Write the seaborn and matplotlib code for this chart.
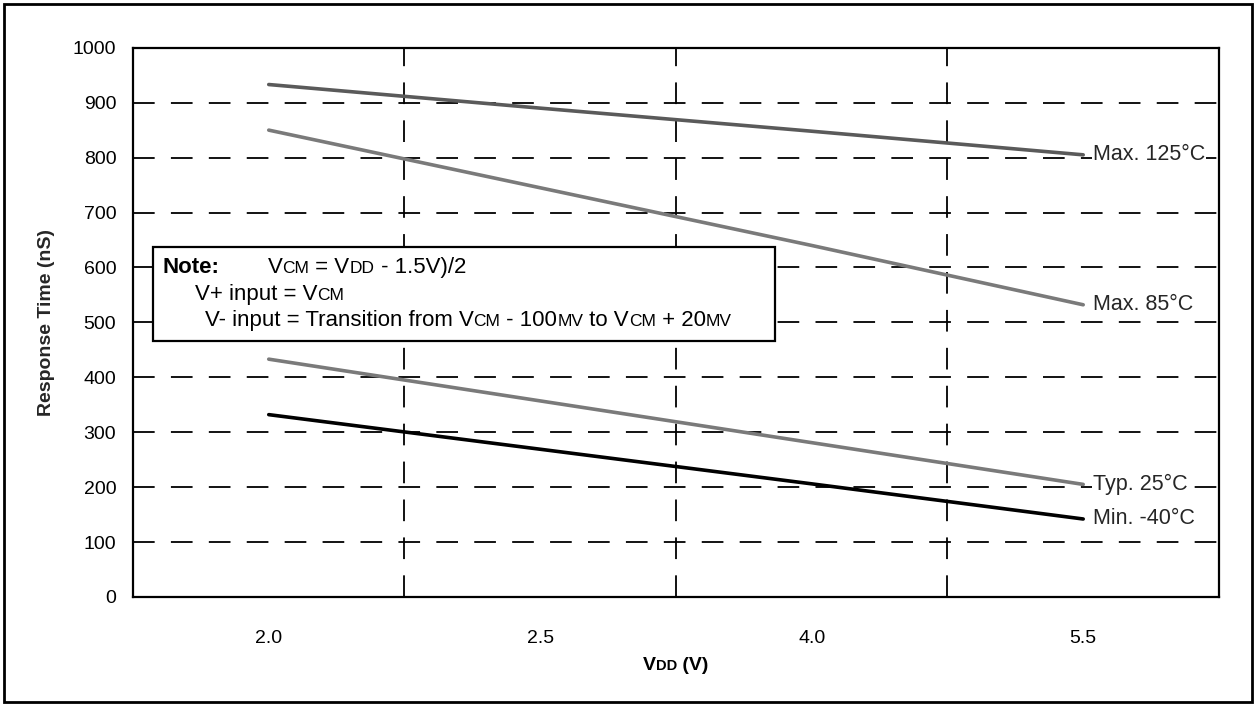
import matplotlib
matplotlib.use("Agg")
import matplotlib.pyplot as plt
import seaborn as sns
import pandas as pd
from matplotlib.offsetbox import TextArea, HPacker, AnnotationBbox
from matplotlib.patches import Rectangle

# Data
vdd_labels = ["2.0", "2.5", "4.0", "5.5"]
curve_names = ["Max. 125°C", "Max. 85°C", "Typ. 25°C", "Min. -40°C"]
max_125 = [933, 890, 848, 805]
max_85 = [850, 745, 640, 532]
typ_25 = [433, 357, 281, 205]
min_40 = [332, 269, 206, 142]
curve_colors = ["#5a5a5a", "#7a7a7a", "#7a7a7a", "#000000"]
y_ticks = list(range(0, 1001, 100))

all_curves = [max_125, max_85, typ_25, min_40]
df = pd.DataFrame({
    "VDD": vdd_labels * len(curve_names),
    "Response": [v for c in all_curves for v in c],
    "Curve": [n for n in curve_names for _ in vdd_labels],
})

sns.set_style("white")
plt.rcParams["font.family"] = ["Liberation Sans", "DejaVu Sans"]

fig = plt.figure(figsize=(12.56, 7.05), dpi=100)
ax = fig.add_axes([0.1059, 0.1532, 0.8646, 0.7791])

sns.lineplot(data=df, x="VDD", y="Response", hue="Curve",
             palette=dict(zip(curve_names, curve_colors)),
             linewidth=2.6, legend=False, sort=False, errorbar=None, ax=ax)

ax.set_xlim(-0.5, len(vdd_labels) - 0.5)
ax.set_ylim(0, 1000)
ax.set_yticks(y_ticks)
ax.set_xticks(range(len(vdd_labels)))
ax.set_xticklabels(vdd_labels)
ax.set_xticks([i + 0.5 for i in range(len(vdd_labels) - 1)], minor=True)

#dashed grid: horizontal at y ticks, vertical between categories
ax.set_axisbelow(True)
ax.grid(False)
ax.grid(which="major", axis="y", color="black", linestyle=(0, (12, 9)), linewidth=1.3)
ax.grid(which="minor", axis="x", color="black", linestyle=(0, (12, 9)), linewidth=1.3)

ax.tick_params(axis="both", which="both", length=0, labelsize=14, colors="black")
ax.tick_params(axis="x", pad=24)
ax.tick_params(axis="y", pad=12)
for s in ax.spines.values():
    s.set_visible(True)
    s.set_color("black")
    s.set_linewidth(1.6)

ax.set_xlabel("")
ax.set_ylabel("Response Time (nS)", fontsize=14, fontweight="bold")
ax.yaxis.set_label_coords(-0.072, 0.5)

# curve labels at line ends
for name, vals in zip(curve_names, all_curves):
    ax.annotate(name, xy=(len(vdd_labels) - 1, vals[-1]), xytext=(7, 0),
                textcoords="offset points", va="center", ha="left", fontsize=15.5,
                bbox=dict(fc="white", ec="none", pad=1), zorder=5)


def mixed_text(x, y, parts, align=(0, 0.5)):
    # text with small-caps style subscripts, kept on one baseline
    areas = [TextArea(t, textprops=dict(fontsize=fs, fontweight=fw, color="black"))
             for t, fs, fw in parts]
    box = HPacker(children=areas, align="baseline", pad=0, sep=0)
    ab = AnnotationBbox(box, (x, y), xycoords=ax.transAxes, frameon=False,
                        box_alignment=align, pad=0, zorder=7, annotation_clip=False)
    ax.add_artist(ab)


mixed_text(0.5, -0.124, [("V", 14, "bold"), ("DD", 10.5, "bold"), (" (V)", 14, "bold")],
           align=(0.5, 0.5))

# note box
N, S = 16, 12.5
ax.add_patch(Rectangle((0.018, 0.466), 0.573, 0.171, transform=ax.transAxes,
                       fc="white", ec="black", lw=1.6, zorder=6))
mixed_text(0.0275, 0.599, [("Note:", N, "bold")])
mixed_text(0.124, 0.599, [("V", N, "normal"), ("CM", S, "normal"), (" = V", N, "normal"),
                          ("DD", S, "normal"), (" - 1.5V)/2", N, "normal")])
mixed_text(0.057, 0.550, [("V+ input = V", N, "normal"), ("CM", S, "normal")])
mixed_text(0.066, 0.503, [("V- input = Transition from V", N, "normal"), ("CM", S, "normal"),
                          (" - 100", N, "normal"), ("MV", S, "normal"),
                          (" to V", N, "normal"), ("CM", S, "normal"),
                          (" + 20", N, "normal"), ("MV", S, "normal")])

# frame around the whole figure
fig.patches.append(Rectangle((0.003, 0.004), 0.994, 0.991, transform=fig.transFigure,
                             fill=False, ec="black", lw=2))

plt.savefig("out.png", dpi=100)
